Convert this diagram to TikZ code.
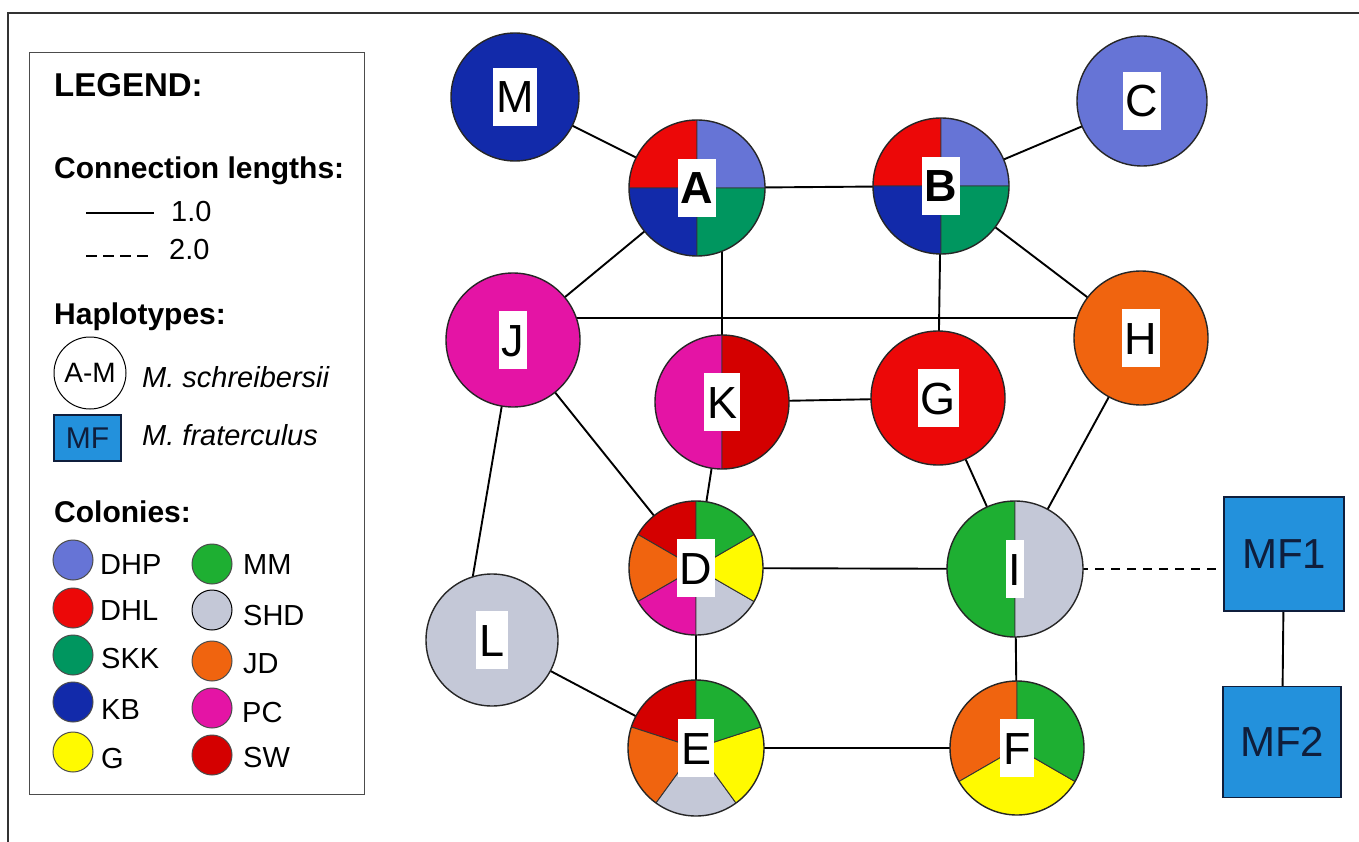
\documentclass[tikz,border=0pt]{standalone}
\usepackage{fontspec}
\setmainfont{Liberation Sans}
\usetikzlibrary{backgrounds}
\newcommand\setfs[1]{\fontsize{#1}{#1}\selectfont}
\definecolor{cDHP}{RGB}{102,116,214}
\definecolor{cDHL}{RGB}{236,8,8}
\definecolor{cSKK}{RGB}{0,150,95}
\definecolor{cKB}{RGB}{18,42,170}
\definecolor{cG}{RGB}{255,250,0}
\definecolor{cMM}{RGB}{30,175,50}
\definecolor{cSHD}{RGB}{196,200,215}
\definecolor{cJD}{RGB}{240,100,15}
\definecolor{cPC}{RGB}{228,20,165}
\definecolor{cSW}{RGB}{212,0,0}
\definecolor{cMF}{RGB}{35,145,220}
\definecolor{cNavy}{RGB}{15,30,60}
\tikzset{
  hap/.style={circle, draw=black!85, line width=1.4pt, inner sep=0pt, minimum size=#1},
  pie/.style={path picture={
      \foreach \s/\e/\c in {#1} {
        \fill[\c, draw=black!80, line width=0.9pt] (path picture bounding box.center) -- ++(\s:90pt)
          arc[start angle=\s, end angle=\e, radius=90pt] -- cycle;
      }}},
  lbl/.style={fill=white, inner xsep=3pt, inner ysep=0pt, minimum height=58pt,
    text height=32pt, text depth=0pt, font=\setfs{45}},
  edge/.style={line width=1.9pt, black},
  ltext/.style={anchor=base west, inner sep=0pt, font=\setfs{29}},
  lhead/.style={anchor=base west, inner sep=0pt, font=\bfseries\setfs{30}},
  colony/.style={circle, draw=black!70, line width=1pt, inner sep=0pt, minimum size=40pt},
  mfbox/.style={draw=cNavy, line width=1.2pt, fill=cMF, text=cNavy, inner sep=0pt, font=\setfs{42}}
}
\begin{document}
\begin{tikzpicture}[x=1pt,y=1pt]
\useasboundingbox (0,0) rectangle (1359,-842);

% ---------- haplotype nodes ----------
\node[hap=128pt, fill=cKB] (M) at (515,-97) {};
\node[hap=136pt, pie={90/180/cDHL,0/90/cDHP,180/270/cKB,270/360/cSKK}] (A) at (697,-188) {};
\node[hap=136pt, pie={90/180/cDHL,0/90/cDHP,180/270/cKB,270/360/cSKK}] (B) at (941,-186) {};
\node[hap=130pt, fill=cDHP] (C) at (1142,-101) {};
\node[hap=134pt, fill=cPC] (J) at (513,-340) {};
\node[hap=134pt, fill=cJD] (H) at (1141,-338) {};
\node[hap=134pt, pie={90/270/cPC,-90/90/cSW}] (K) at (722,-402) {};
\node[hap=134pt, fill=cDHL] (G) at (938,-398) {};
\node[hap=134pt, pie={90/150/cSW,150/210/cJD,210/270/cPC,270/330/cSHD,-30/30/cG,30/90/cMM}] (D) at (696,-568) {};
\node[hap=136pt, pie={90/270/cMM,-90/90/cSHD}] (I) at (1015,-569) {};
\node[hap=132pt, fill=cSHD] (L) at (492,-640) {};
\node[hap=136pt, pie={90/162/cSW,162/234/cJD,234/306/cSHD,306/378/cG,18/90/cMM}] (E) at (696,-748) {};
\node[hap=134pt, pie={90/210/cJD,210/330/cG,-30/90/cMM}] (F) at (1017,-748) {};
\node[mfbox, minimum width=120pt, minimum height=114pt] (MF1) at (1284,-554) {MF1};
\node[mfbox, minimum width=118pt, minimum height=111pt] (MF2) at (1282,-742) {MF2};

% ---------- labels ----------
\node[lbl] (Ml) at (M) {M};
\node[lbl] (Al) at (A) {\bfseries A};
\node[lbl] (Bl) at (B) {\bfseries B};
\node[lbl] (Cl) at (C) {C};
\node[lbl] (Jl) at (J) {J};
\node[lbl] (Hl) at (H) {H};
\node[lbl] (Kl) at (K) {K};
\node[lbl] (Gl) at (G) {G};
\node[lbl] (Dl) at (D) {D};
\node[lbl] (Il) at (I) {I};
\node[lbl] (Ll) at (L) {L};
\node[lbl] (El) at (E) {E};
\node[lbl] (Fl) at (F) {F};

% ---------- background: page, frame, connectors ----------
\begin{scope}[on background layer]
  \fill[white] (0,0) rectangle (1359,-842);
  \draw[line width=1.5pt, black!80] (8,-842) -- (8,-13) -- (1359,-13);
  \draw[edge] (M.center) -- (A.center);
  \draw[edge] (A.center) -- (B.center);
  \draw[edge] (B.center) -- (C.center);
  \draw[edge] (A.center) -- (J.center);
  \draw[edge] (K.center) -- (K.center |- A.center);
  \draw[edge] (B.center) -- (G.center);
  \draw[edge] (B.center) -- (H.center);
  \draw[edge] ([yshift=22pt]J.center) -- ([yshift=20pt]H.center);
  \draw[edge] (J.center) -- (D.center);
  \draw[edge] (J.center) -- ([xshift=-30pt]L.center);
  \draw[edge] (K.center) -- (G.center);
  \draw[edge] (K.center) -- (D.center);
  \draw[edge] (G.center) -- (I.center);
  \draw[edge] (H.center) -- (I.center);
  \draw[edge] (D.center) -- (I.center);
  \draw[edge] (D.center) -- (E.center);
  \draw[edge] (I.center) -- (F.center);
  \draw[edge] (L.center) -- (E.center);
  \draw[edge] (E.center) -- (F.center);
  \draw[edge, dash pattern=on 9pt off 7pt] (I.center) -- (I.center -| MF1.west);
  \draw[edge] (MF1.center) -- (MF2.center);
\end{scope}

% ---------- legend ----------
\node[draw=black!70, line width=1.3pt, minimum width=335pt, minimum height=742pt,
      anchor=north west, inner sep=0pt] (legend) at (29,-52) {};
\node[anchor=base west, inner sep=0pt, font=\bfseries\setfs{33}] (lg) at (54,-97) {LEGEND:};
\node[lhead] (cl) at (54,-179) {Connection lengths:};
\coordinate (s1) at (86,-213);
\coordinate (s2) at (154,-213);
\draw[line width=1.4pt] (s1) -- (s2);
\node[ltext] (t1) at (171,-222) {1.0};
\coordinate (d1) at (86,-256);
\coordinate (d2) at (154,-256);
\draw[line width=1.4pt, dash pattern=on 11pt off 6pt] (d1) -- (d2);
\node[ltext] (t2) at (169,-259) {2.0};
\node[lhead] (hp) at (54,-324) {Haplotypes:};
\node[circle, draw, line width=1pt, minimum size=72pt, inner sep=0pt, font=\setfs{28}] (am) at (90,-373) {A-M};
\node[ltext, font=\itshape\setfs{29}] (ms) at (142,-387) {M. schreibersii};
\node[mfbox, minimum width=67pt, minimum height=46pt, font=\setfs{30}] (mfl) at (87.5,-438) {MF};
\node[ltext, font=\itshape\setfs{29}] (mf) at (142,-445) {M. fraterculus};
\node[lhead] (col) at (54,-522) {Colonies:};

\node[colony, fill=cDHP] (c1) at (73,-560) {};
\node[ltext] (c1t) at (100,-574) {DHP};
\node[colony, fill=cDHL] (c2) at (73,-608) {};
\node[ltext] (c2t) at (100,-620) {DHL};
\node[colony, fill=cSKK] (c3) at (73,-655) {};
\node[ltext] (c3t) at (101,-668) {SKK};
\node[colony, fill=cKB] (c4) at (73,-702) {};
\node[ltext] (c4t) at (101,-719) {KB};
\node[colony, fill=cG] (c5) at (73,-752) {};
\node[ltext] (c5t) at (101,-768) {G};
\node[colony, fill=cMM] (c6) at (212,-564) {};
\node[ltext] (c6t) at (243,-574) {MM};
\node[colony, fill=cSHD, draw=black] (c7) at (212,-610) {};
\node[ltext] (c7t) at (243,-625) {SHD};
\node[colony, fill=cJD] (c8) at (212,-661) {};
\node[ltext] (c8t) at (243,-673) {JD};
\node[colony, fill=cPC] (c9) at (212,-708) {};
\node[ltext] (c9t) at (242,-722) {PC};
\node[colony, fill=cSW] (c10) at (212,-755) {};
\node[ltext] (c10t) at (243,-767) {SW};
\end{tikzpicture}
\end{document}
